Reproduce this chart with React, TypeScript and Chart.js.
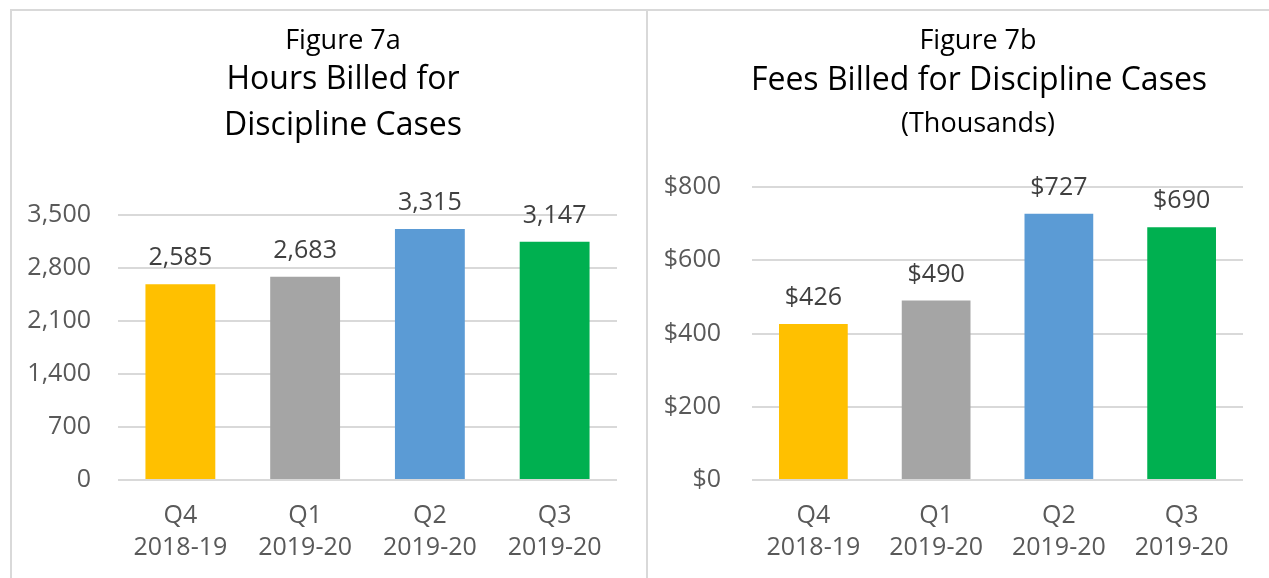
import React, { useEffect, useRef } from 'react';
import { Chart, registerables } from 'chart.js';

Chart.register(...registerables);

// ---- Data ----
const categories: string[][] = [
  ['Q4', '2018-19'],
  ['Q1', '2019-20'],
  ['Q2', '2019-20'],
  ['Q3', '2019-20'],
];
const hoursValues = [2585, 2683, 3315, 3147];
const feesValues = [426, 490, 727, 690];
const barColors = ['#FFC000', '#A5A5A5', '#5B9BD5', '#00B050'];
const hoursTicks = [0, 700, 1400, 2100, 2800, 3500];
const feesTicks = [0, 200, 400, 600, 800];

const FONT = '"Open Sans", "Noto Sans", sans-serif';
const TICK_COLOR = '#595959';
const LABEL_COLOR = '#404040';
const GRID_COLOR = '#d9d9d9';

function valueLabelPlugin(fmt: (v: number) => string) {
  return {
    id: 'valueLabels',
    afterDatasetsDraw(chart: any) {
      const ctx = chart.ctx;
      const meta = chart.getDatasetMeta(0);
      const data = chart.data.datasets[0].data as number[];
      ctx.save();
      ctx.font = `25px ${FONT}`;
      ctx.fillStyle = LABEL_COLOR;
      ctx.textAlign = 'center';
      ctx.textBaseline = 'alphabetic';
      meta.data.forEach((bar: any, i: number) => {
        ctx.fillText(fmt(data[i]), bar.x, bar.y - 19);
      });
      ctx.restore();
    },
  };
}

function makeConfig(
  values: number[],
  ticks: number[],
  tickFmt: (v: number) => string,
  padding: { top: number; right: number; bottom: number; left: number },
  yPad: number
): any {
  return {
    type: 'bar',
    data: {
      labels: categories,
      datasets: [
        {
          data: values,
          backgroundColor: barColors,
          barPercentage: 0.56,
          categoryPercentage: 1,
        },
      ],
    },
    options: {
      animation: false,
      responsive: true,
      maintainAspectRatio: false,
      layout: { padding },
      plugins: {
        legend: { display: false },
        tooltip: { enabled: false },
        title: { display: false },
      },
      scales: {
        x: {
          grid: { display: false, drawTicks: false },
          border: { display: false },
          ticks: {
            color: TICK_COLOR,
            padding: 20,
            font: { family: FONT, size: 25, lineHeight: 1.28 },
            maxRotation: 0,
            autoSkip: false,
          },
          afterFit(s: any) {
            s.height = 90;
          },
        },
        y: {
          min: ticks[0],
          max: ticks[ticks.length - 1],
          grid: { color: GRID_COLOR, lineWidth: 2, drawTicks: false },
          border: { display: false },
          ticks: {
            stepSize: ticks[1] - ticks[0],
            color: TICK_COLOR,
            padding: yPad,
            font: { family: FONT, size: 25 },
            callback: (v: any) => tickFmt(Number(v)),
          },
          afterFit(s: any) {
            s.width = 100;
          },
        },
      },
    },
    plugins: [valueLabelPlugin(tickFmt)],
  };
}

function BarChart(props: { config: any; style: React.CSSProperties }) {
  const ref = useRef<HTMLCanvasElement | null>(null);
  useEffect(() => {
    if (!ref.current) return;
    const chart = new Chart(ref.current, props.config);
    return () => chart.destroy();
  }, []);
  return (
    <div style={{ position: 'absolute', ...props.style }}>
      <canvas ref={ref} />
    </div>
  );
}

function TitleLine(props: { text: string; cx: number; cy: number; size: number }) {
  const { text, cx, cy, size } = props;
  return (
    <div
      style={{
        position: 'absolute',
        left: cx - 300,
        width: 600,
        top: cy - size * 0.56,
        fontFamily: FONT,
        fontSize: size,
        lineHeight: 1,
        textAlign: 'center',
        color: '#000',
        whiteSpace: 'nowrap',
      }}
    >
      {text}
    </div>
  );
}

const fmtHours = (v: number) => v.toLocaleString('en-US');
const fmtFees = (v: number) => '$' + v.toLocaleString('en-US');

export default function App() {
  const leftConfig = makeConfig(
    hoursValues,
    hoursTicks,
    fmtHours,
    { top: 215, right: 29, bottom: 8, left: 18 },
    27
  );
  const rightConfig = makeConfig(
    feesValues,
    feesTicks,
    fmtFees,
    { top: 187, right: 26, bottom: 8, left: 5 },
    31
  );
  return (
    <div
      style={{
        position: 'fixed',
        left: 0,
        top: 0,
        width: 1269,
        height: 578,
        background: '#fff',
        overflow: 'hidden',
      }}
    >
      {/* panel borders */}
      <div style={{ position: 'absolute', left: 10, top: 9, width: 1259, height: 2, background: GRID_COLOR }} />
      <div style={{ position: 'absolute', left: 10, top: 9, width: 2, height: 569, background: GRID_COLOR }} />
      <div style={{ position: 'absolute', left: 646, top: 9, width: 2, height: 569, background: GRID_COLOR }} />

      <BarChart config={leftConfig} style={{ left: 0, top: 0, width: 646, height: 578 }} />
      <BarChart config={rightConfig} style={{ left: 647, top: 0, width: 622, height: 578 }} />

      <TitleLine text="Figure 7a" cx={343} cy={40} size={27} />
      <TitleLine text="Hours Billed for" cx={343} cy={79} size={32} />
      <TitleLine text="Discipline Cases" cx={343} cy={125} size={32} />

      <TitleLine text="Figure 7b" cx={978} cy={40} size={27} />
      <TitleLine text="Fees Billed for Discipline Cases" cx={979} cy={80} size={32} />
      <TitleLine text="(Thousands)" cx={978} cy={123} size={27} />
    </div>
  );
}
